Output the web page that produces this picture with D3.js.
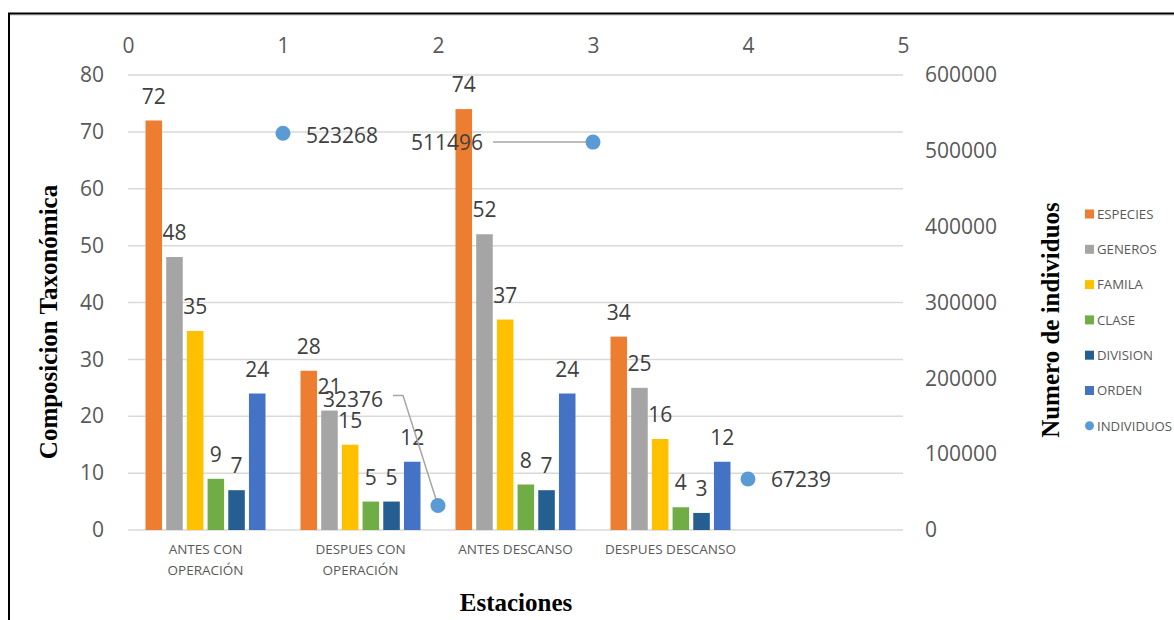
<!DOCTYPE html>
<html>
<head>
<meta charset="utf-8">
<script src="https://cdn.jsdelivr.net/npm/d3@7/dist/d3.min.js"></script>
<style>
  html, body { margin: 0; padding: 0; background: #fff; }
  svg { display: block; }
</style>
</head>
<body>
<svg id="chart" width="1174" height="620"></svg>
<script>
// Stations (the last slot is left empty on the category axis)
const categories = ["ANTES CON\nOPERACIÓN", "DESPUES CON\nOPERACIÓN", "ANTES DESCANSO", "DESPUES DESCANSO", ""];

// Taxonomic composition per station
const seriesNames = ["ESPECIES", "GENEROS", "FAMILA", "CLASE", "DIVISION", "ORDEN"];
const especies = [72, 28, 74, 34];
const generos  = [48, 21, 52, 25];
const famila   = [35, 15, 37, 16];
const clase    = [9, 5, 8, 4];
const division = [7, 5, 7, 3];
const orden    = [24, 12, 24, 12];
const seriesValues = [especies, generos, famila, clase, division, orden];

// Number of individuals (scatter on secondary axes)
const individuosX = [1, 2, 3, 4];
const individuosY = [523268, 32376, 511496, 67239];

// Axis ticks
const leftTicks = [0, 10, 20, 30, 40, 50, 60, 70, 80];
const rightTicks = [0, 100000, 200000, 300000, 400000, 500000, 600000];
const topTicks = [0, 1, 2, 3, 4, 5];

const colors = {
  ESPECIES: "#ED7D31", GENEROS: "#A5A5A5", FAMILA: "#FFC000",
  CLASE: "#70AD47", DIVISION: "#255E91", ORDEN: "#4472C4", INDIVIDUOS: "#5B9BD5"
};

const svg = d3.select("#chart");
const plot = { left: 128, right: 903, top: 75, bottom: 530 };
const numFont = "'Open Sans', sans-serif";
const serif = "'Liberation Serif', 'Times New Roman', serif";

// Scales
const x0 = d3.scaleBand().domain(d3.range(categories.length)).range([plot.left, plot.right]).padding(0);
const groupPad = 17.5;
const x1 = d3.scaleBand().domain(seriesNames)
  .range([groupPad, x0.bandwidth() - groupPad]).paddingInner(0.2).paddingOuter(0);
const yL = d3.scaleLinear().domain([0, 80]).range([plot.bottom, plot.top]);
const yR = d3.scaleLinear().domain([0, 600000]).range([plot.bottom, plot.top]);
const xTop = d3.scaleLinear().domain([0, 5]).range([plot.left, plot.right]);

// Frame lines
svg.append("line").attr("x1", 8).attr("x2", 1174).attr("y1", 15).attr("y2", 15)
  .attr("stroke", "#c8c8c8").attr("stroke-width", 1);
svg.append("line").attr("x1", 8).attr("x2", 1174).attr("y1", 13.5).attr("y2", 13.5)
  .attr("stroke", "#000").attr("stroke-width", 2);
svg.append("line").attr("x1", 9).attr("x2", 9).attr("y1", 13).attr("y2", 620)
  .attr("stroke", "#000").attr("stroke-width", 2);

// Gridlines
svg.append("g").selectAll("line").data(leftTicks).join("line")
  .attr("x1", plot.left).attr("x2", plot.right)
  .attr("y1", d => yL(d)).attr("y2", d => yL(d))
  .attr("stroke", "#d9d9d9").attr("stroke-width", 1.5);

// Left axis labels
const axL = svg.append("g").attr("transform", `translate(${plot.left - 24},0)`)
  .call(d3.axisLeft(yL).tickValues(leftTicks).tickSize(0).tickPadding(0));
axL.select(".domain").remove();
axL.selectAll("text").attr("font-family", numFont).attr("font-size", 21).attr("fill", "#595959");

// Right axis labels
const axR = svg.append("g").attr("transform", `translate(${plot.right + 22},0)`)
  .call(d3.axisRight(yR).tickValues(rightTicks).tickSize(0).tickPadding(0).tickFormat(d3.format("d")));
axR.select(".domain").remove();
axR.selectAll("text").attr("font-family", numFont).attr("font-size", 21).attr("fill", "#595959");

// Top axis labels
const axT = svg.append("g").attr("transform", `translate(0,${plot.top - 22})`)
  .call(d3.axisTop(xTop).tickValues(topTicks).tickSize(0).tickPadding(0).tickFormat(d3.format("d")));
axT.select(".domain").remove();
axT.selectAll("text").attr("font-family", numFont).attr("font-size", 21).attr("fill", "#595959");

// Category labels
const catG = svg.append("g");
categories.forEach((c, i) => {
  if (!c) return;
  const lines = c.split("\n");
  const t = catG.append("text")
    .attr("x", x0(i) + x0.bandwidth() / 2).attr("y", 554)
    .attr("text-anchor", "middle")
    .attr("font-family", numFont).attr("font-size", 13.5).attr("fill", "#595959");
  lines.forEach((l, k) => t.append("tspan").attr("x", x0(i) + x0.bandwidth() / 2)
    .attr("dy", k === 0 ? 0 : 20.5).text(l));
});

// Bars
const barData = [];
seriesNames.forEach((s, si) => {
  seriesValues[si].forEach((v, ci) => barData.push({ s, ci, v }));
});
svg.append("g").selectAll("rect").data(barData).join("rect")
  .attr("x", d => x0(d.ci) + x1(d.s))
  .attr("width", x1.bandwidth())
  .attr("y", d => yL(d.v))
  .attr("height", d => yL(0) - yL(d.v))
  .attr("fill", d => colors[d.s]);

// Bar value labels
svg.append("g").selectAll("text").data(barData).join("text")
  .attr("x", d => x0(d.ci) + x1(d.s) + x1.bandwidth() / 2)
  .attr("y", d => yL(d.v) - 17)
  .attr("text-anchor", "middle")
  .attr("font-family", numFont).attr("font-size", 21).attr("fill", "#404040")
  .text(d => d.v);

// Scatter: leader lines for moved labels
const ptX = i => xTop(individuosX[i]);
const ptY = i => yR(individuosY[i]);
const leader = svg.append("g").attr("fill", "none").attr("stroke", "#a6a6a6").attr("stroke-width", 1.5);
leader.append("polyline")
  .attr("points", `${ptX(1) - 45},${ptY(1) - 110} ${ptX(1) - 35},${ptY(1) - 110} ${ptX(1)},${ptY(1)}`);
leader.append("polyline")
  .attr("points", `${ptX(2) - 100},${ptY(2)} ${ptX(2)},${ptY(2)}`);

// Scatter points
svg.append("g").selectAll("circle").data(individuosX).join("circle")
  .attr("cx", (d, i) => ptX(i)).attr("cy", (d, i) => ptY(i))
  .attr("r", 7.5).attr("fill", colors.INDIVIDUOS);

// Scatter value labels
const scatterLabelPos = [
  { dx: 23, dy: 10, anchor: "start" },
  { dx: -115, dy: -98, anchor: "start" },
  { dx: -182, dy: 8, anchor: "start" },
  { dx: 23, dy: 8, anchor: "start" }
];
svg.append("g").selectAll("text").data(individuosY).join("text")
  .attr("x", (d, i) => ptX(i) + scatterLabelPos[i].dx)
  .attr("y", (d, i) => ptY(i) + scatterLabelPos[i].dy)
  .attr("text-anchor", (d, i) => scatterLabelPos[i].anchor)
  .attr("font-family", numFont).attr("font-size", 21).attr("fill", "#404040")
  .text(d => d);

// Axis titles
svg.append("text")
  .attr("transform", "translate(57,322) rotate(-90)")
  .attr("text-anchor", "middle")
  .attr("font-family", serif).attr("font-weight", "bold").attr("font-size", 25).attr("fill", "#000")
  .text("Composicion Taxonómica");
svg.append("text")
  .attr("transform", "translate(1059,320) rotate(-90)")
  .attr("text-anchor", "middle")
  .attr("font-family", serif).attr("font-weight", "bold").attr("font-size", 25).attr("fill", "#000")
  .text("Numero de individuos");
svg.append("text")
  .attr("x", 516).attr("y", 611)
  .attr("text-anchor", "middle")
  .attr("font-family", serif).attr("font-weight", "bold").attr("font-size", 25).attr("fill", "#000")
  .text("Estaciones");

// Legend
const legendNames = seriesNames.concat(["INDIVIDUOS"]);
const lg = svg.append("g");
legendNames.forEach((n, i) => {
  const y = 214 + i * 35.3;
  if (n === "INDIVIDUOS") {
    lg.append("circle").attr("cx", 1089.5).attr("cy", y).attr("r", 4.5).attr("fill", colors[n]);
  } else {
    lg.append("rect").attr("x", 1085).attr("y", y - 4.5).attr("width", 9).attr("height", 9).attr("fill", colors[n]);
  }
  lg.append("text").attr("x", 1097).attr("y", y + 4.8)
    .attr("font-family", numFont).attr("font-size", 13.2).attr("fill", "#595959")
    .text(n);
});
</script>
</body>
</html>
